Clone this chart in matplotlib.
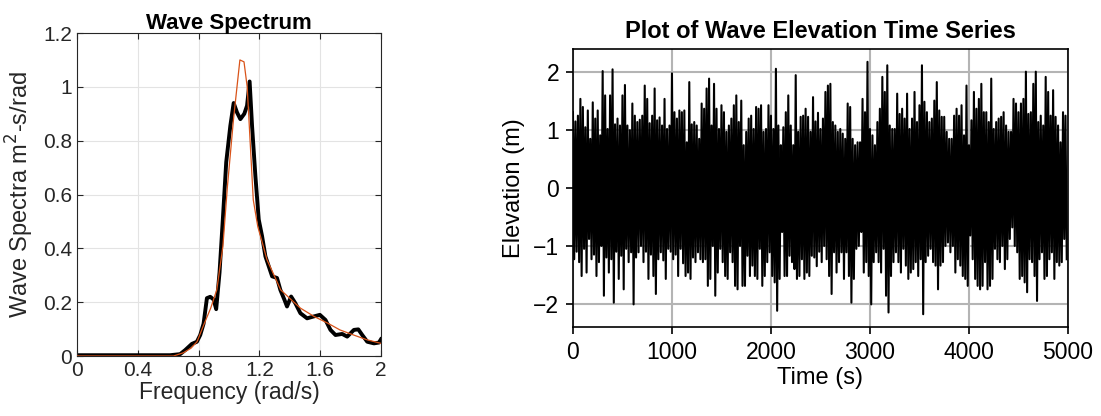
import numpy as np
import matplotlib.pyplot as plt

plt.rcParams['font.family'] = ['Liberation Sans', 'DejaVu Sans']

# ---- wave spectrum (left) ----
freq_meas = [0, 0.613, 0.679, 0.712, 0.756, 0.789, 0.811, 0.833, 0.855, 0.877,
             0.899, 0.916, 0.938, 0.960, 0.982, 1.009, 1.031, 1.053, 1.075, 1.101,
             1.119, 1.136, 1.152, 1.174, 1.196, 1.218, 1.240, 1.262, 1.284, 1.316,
             1.338, 1.365, 1.382, 1.409, 1.437, 1.470, 1.514, 1.558, 1.598, 1.635,
             1.668, 1.701, 1.745, 1.778, 1.822, 1.851, 1.877, 1.910, 1.954, 1.987, 2.0]
spec_meas = [0.003, 0.003, 0.007, 0.022, 0.045, 0.053, 0.078, 0.12, 0.215, 0.22,
             0.21, 0.174, 0.31, 0.51, 0.72, 0.855, 0.94, 0.905, 0.88, 0.90,
             0.93, 1.02, 0.855, 0.668, 0.507, 0.445, 0.37, 0.333, 0.296, 0.29,
             0.246, 0.209, 0.184, 0.221, 0.196, 0.159, 0.14, 0.147, 0.153, 0.134,
             0.097, 0.078, 0.082, 0.072, 0.097, 0.099, 0.078, 0.053, 0.047, 0.05, 0.062]

freq_theory = [0, 0.635, 0.70, 0.75, 0.79, 0.83, 0.88, 0.92, 0.96, 0.99, 1.03,
               1.072, 1.099, 1.12, 1.14, 1.16, 1.19, 1.22, 1.25, 1.30, 1.34,
               1.41, 1.47, 1.56, 1.65, 1.73, 1.82, 1.91, 2.0]
spec_theory = [0.0, 0.0, 0.012, 0.029, 0.053, 0.11, 0.178, 0.246, 0.407, 0.63, 0.88,
               1.10, 1.093, 1.0, 0.79, 0.58, 0.48, 0.42, 0.358, 0.296, 0.246,
               0.209, 0.178, 0.147, 0.122, 0.097, 0.078, 0.06, 0.047]

# ---- elevation time series (right): crest / trough peaks every 25 s ----
dt = 25.0
crests = [
    1.31, 1.15, 1.25, 1.54, 1.40, 1.05, 1.34, 0.85, 1.48, 1.20,
    1.34, 0.91, 2.02, 1.60, 1.02, 1.60, 2.05, 1.10, 1.20, 1.08,
    1.60, 1.78, 1.08, 1.00, 1.46, 1.25, 1.14, 1.18, 1.25, 1.77,
    1.54, 1.12, 1.25, 1.72, 1.17, 1.22, 1.08, 1.54, 1.02, 1.08,
    1.98, 1.31, 1.20, 1.34, 1.31, 1.34, 0.79, 1.83, 1.10, 1.14,
    1.08, 0.85, 1.46, 1.37, 1.72, 1.89, 1.08, 1.80, 1.37, 1.02,
    1.43, 1.31, 0.97, 1.08, 1.20, 1.43, 1.60, 1.14, 1.51, 0.74,
    0.97, 1.20, 1.25, 1.02, 1.40, 1.37, 1.43, 0.97, 1.02, 1.43,
    1.25, 1.02, 2.06, 1.08, 0.74, 1.05, 1.31, 1.60, 1.08, 0.74,
    1.95, 0.97, 1.23, 1.25, 1.37, 1.23, 0.97, 1.57, 1.15, 1.30,
    1.02, 1.20, 1.66, 1.77, 1.80, 1.14, 1.08, 0.97, 1.02, 0.94,
    0.85, 1.46, 1.40, 0.85, 0.74, 0.79, 0.79, 1.54, 1.31, 2.18,
    1.02, 0.91, 0.74, 1.14, 1.37, 1.92, 1.66, 2.12, 1.08, 1.02,
    1.02, 1.63, 1.28, 1.37, 1.20, 1.63, 1.02, 1.20, 1.66, 1.14,
    1.43, 2.12, 1.49, 1.31, 1.14, 1.20, 1.51, 1.83, 1.34, 1.23,
    1.23, 0.97, 0.85, 0.85, 1.25, 1.37, 1.25, 1.43, 0.91, 1.77,
    0.74, 1.17, 1.66, 1.37, 1.54, 1.80, 1.31, 1.31, 1.14, 1.89,
    1.02, 1.14, 1.20, 1.23, 1.31, 1.08, 0.97, 0.97, 1.54, 1.46,
    1.31, 1.46, 1.54, 2.01, 1.28, 1.31, 1.80, 2.01, 1.14, 1.25,
    1.08, 1.92, 1.66, 1.25, 1.69, 1.23, 1.08, 0.79, 1.31, 1.25,
]
troughs = [
    -1.23, -1.10, -1.28, -1.52, -1.05, -1.46, -0.88, -1.23, -1.15, -1.52,
    -1.28, -1.00, -1.86, -1.20, -1.46, -1.23, -1.98, -1.10, -1.57, -1.17,
    -1.75, -1.05, -1.28, -1.11, -2.01, -1.20, -1.11, -1.00, -1.28, -1.10,
    -1.57, -1.15, -1.52, -1.83, -1.23, -1.11, -1.25, -1.57, -1.05, -1.10,
    -1.23, -1.15, -1.52, -1.05, -1.30, -1.52, -1.46, -1.57, -1.20, -1.28,
    -1.11, -1.23, -1.28, -1.23, -1.69, -1.57, -1.00, -1.86, -1.46, -1.05,
    -1.28, -1.52, -1.57, -1.11, -1.28, -1.69, -1.75, -1.00, -1.69, -1.69,
    -1.17, -1.52, -1.34, -1.52, -1.57, -1.05, -1.69, -1.52, -1.28, -1.11,
    -1.52, -1.63, -2.12, -1.57, -0.76, -1.52, -1.52, -1.17, -1.28, -1.40,
    -1.57, -1.52, -1.23, -1.57, -1.46, -1.52, -1.17, -1.20, -1.35, -1.10,
    -1.28, -1.00, -1.23, -1.52, -1.83, -1.11, -1.46, -1.28, -1.11, -1.57,
    -1.11, -1.52, -1.98, -1.57, -1.05, -1.00, -0.76, -1.46, -1.28, -1.52,
    -2.01, -1.28, -1.11, -1.28, -1.46, -1.05, -1.86, -2.15, -1.52, -1.28,
    -1.11, -1.28, -1.46, -1.05, -1.34, -1.57, -1.46, -1.40, -1.28, -1.52,
    -1.23, -2.18, -1.28, -1.17, -1.05, -1.28, -1.34, -1.75, -1.34, -1.28,
    -1.00, -0.94, -1.11, -1.00, -1.46, -1.23, -1.34, -1.52, -1.57, -1.69,
    -0.82, -1.23, -1.57, -1.69, -1.75, -1.69, -1.28, -1.75, -1.69, -1.57,
    -1.05, -1.23, -1.28, -1.00, -1.40, -1.23, -0.88, -0.68, -1.00, -1.11,
    -1.57, -1.52, -1.63, -1.80, -1.23, -1.28, -1.52, -1.95, -1.23, -1.11,
    -1.57, -1.52, -1.23, -1.11, -1.57, -1.28, -1.34, -1.28, -0.88, -1.23,
]

t_crest = np.arange(len(crests)) * dt
t_trough = t_crest + dt / 2
t = np.empty(2 * len(crests))
eta = np.empty(2 * len(crests))
t[0::2], t[1::2] = t_crest, t_trough
eta[0::2], eta[1::2] = crests, troughs

fig = plt.figure(figsize=(11.01, 4.16), dpi=100)

ax1 = fig.add_axes([0.0699, 0.1442, 0.2761, 0.7764])
ax1.plot(freq_theory, spec_theory, color='#D95319', lw=0.9, zorder=3)
ax1.plot(freq_meas, spec_meas, color='black', lw=2.8, zorder=2)
ax1.set_xlim(0, 2)
ax1.set_ylim(0, 1.2)
ax1.set_xticks([0, 0.4, 0.8, 1.2, 1.6, 2])
ax1.set_xticklabels(['0', '0.4', '0.8', '1.2', '1.6', '2'])
ax1.set_yticks([0, 0.2, 0.4, 0.6, 0.8, 1.0, 1.2])
ax1.set_yticklabels(['0', '0.2', '0.4', '0.6', '0.8', '1', '1.2'])
ax1.grid(True, color='#e3e3e3', lw=0.8)
ax1.set_axisbelow(True)
ax1.tick_params(direction='in', top=True, right=True, labelsize=15,
                colors='#262626', length=4, width=0.8)
for s in ax1.spines.values():
    s.set_color('#262626')
    s.set_linewidth(0.8)
ax1.set_xlabel('Frequency (rad/s)', fontsize=16.5, color='#262626', labelpad=1)
ax1.set_ylabel('Wave Spectra m$^2$-s/rad', fontsize=17, color='#262626', labelpad=5)
ax1.set_title('Wave Spectrum', fontsize=16, fontweight='bold', pad=3)

ax2 = fig.add_axes([0.5204, 0.214, 0.4496, 0.668])
ax2.plot(t, eta, color='black', lw=1.5)
ax2.set_xlim(0, 5000)
ax2.set_ylim(-2.4, 2.4)
ax2.set_xticks([0, 1000, 2000, 3000, 4000, 5000])
ax2.set_yticks([-2, -1, 0, 1, 2])
ax2.grid(True, color='#b4b4b4', lw=1.5)
ax2.set_axisbelow(True)
ax2.tick_params(direction='out', labelsize=16.5, length=5, width=1.2, pad=5)
for s in ax2.spines.values():
    s.set_linewidth(1.2)
ax2.set_xlabel('Time (s)', fontsize=17, labelpad=2)
ax2.set_ylabel('Elevation (m)', fontsize=17, labelpad=6)
ax2.set_title('Plot of Wave Elevation Time Series', fontsize=17, fontweight='bold', pad=8)

fig.savefig('out.png', dpi=100)
